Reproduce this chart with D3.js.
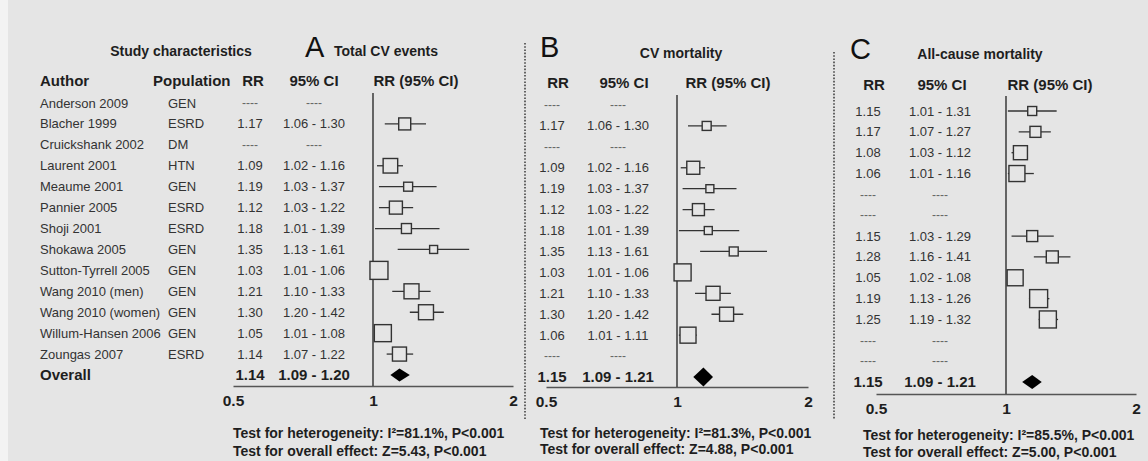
<!DOCTYPE html>
<html lang="en">
<head>
<meta charset="utf-8">
<script src="https://d3js.org/d3.v7.min.js"></script>
<style>
  body { margin: 0; background: #f3f3f3; }
  svg { display: block; }
  text { font-family: "Liberation Sans", Arial, sans-serif; fill: #1e1e1e; }
  .title { font-weight: bold; font-size: 14px; }
  .letter { font-size: 29px; fill: #111; }
  .hdr { font-weight: bold; font-size: 15px; }
  .row { font-size: 13px; fill: #333; }
  .dash { font-size: 12px; fill: #666; }
  .overall { font-weight: bold; font-size: 15px; }
  .test { font-weight: bold; font-size: 14px; }
  .tick text { font-weight: bold; font-size: 15.5px; fill: #1e1e1e; font-family: "Liberation Sans", Arial, sans-serif; }
  .ci { stroke: #333; stroke-width: 1.3; }
  .box { fill: #e5e5e5; stroke: #333; stroke-width: 1.4; }
  .diamond { fill: #000; }
  .ref { stroke: #444; stroke-width: 1.6; }
  .sep { stroke: #444; stroke-width: 1.6; stroke-dasharray: 1.6 1.6; }
</style>
<title>Forest plots</title>
</head>
<body>
<div id="chart"></div>
<script>
// study characteristics
var authors = ["Anderson 2009", "Blacher 1999", "Cruickshank 2002", "Laurent 2001", "Meaume 2001",
  "Pannier 2005", "Shoji 2001", "Shokawa 2005", "Sutton-Tyrrell 2005", "Wang 2010 (men)",
  "Wang 2010 (women)", "Willum-Hansen 2006", "Zoungas 2007"];
var populations = ["GEN", "ESRD", "DM", "HTN", "GEN", "ESRD", "ESRD", "GEN", "GEN", "GEN", "GEN", "GEN", "ESRD"];

// A: total CV events
var rrA = [null, 1.17, null, 1.09, 1.19, 1.12, 1.18, 1.35, 1.03, 1.21, 1.30, 1.05, 1.14];
var loA = [null, 1.06, null, 1.02, 1.03, 1.03, 1.01, 1.13, 1.01, 1.10, 1.20, 1.01, 1.07];
var hiA = [null, 1.30, null, 1.16, 1.37, 1.22, 1.39, 1.61, 1.06, 1.33, 1.42, 1.08, 1.22];
var weightA = [null, 6.8, null, 10, 3.8, 8, 4.7, 3, 15.3, 10.6, 10.6, 13.7, 9.3];
var overallA = [1.14, 1.09, 1.20];
var testsA = ["Test for heterogeneity: I\u00b2=81.1%, P<0.001", "Test for overall effect: Z=5.43, P<0.001"];

// B: CV mortality
var rrB = [null, 1.17, null, 1.09, 1.19, 1.12, 1.18, 1.35, 1.03, 1.21, 1.30, 1.06, null];
var loB = [null, 1.06, null, 1.02, 1.03, 1.03, 1.01, 1.13, 1.01, 1.10, 1.20, 1.01, null];
var hiB = [null, 1.30, null, 1.16, 1.37, 1.22, 1.39, 1.61, 1.06, 1.33, 1.42, 1.11, null];
var weightB = [null, 3.8, null, 8, 3, 6.8, 3, 3.8, 13.7, 9.3, 9.3, 12.1, null];
var overallB = [1.15, 1.09, 1.21];
var testsB = ["Test for heterogeneity: I\u00b2=81.3%, P<0.001", "Test for overall effect: Z=4.88, P<0.001"];

// C: all-cause mortality
var rrC = [1.15, 1.17, 1.08, 1.06, null, null, 1.15, 1.28, 1.05, 1.19, 1.25, null, null];
var loC = [1.01, 1.07, 1.03, 1.01, null, null, 1.03, 1.16, 1.02, 1.13, 1.19, null, null];
var hiC = [1.31, 1.27, 1.12, 1.16, null, null, 1.29, 1.41, 1.08, 1.26, 1.32, null, null];
var weightC = [3.8, 5.7, 9.3, 12.1, null, null, 5.7, 6.8, 12.1, 15.3, 13.7, null, null];
var overallC = [1.15, 1.09, 1.21];
var testsC = ["Test for heterogeneity: I\u00b2=85.5%, P<0.001", "Test for overall effect: Z=5.00, P<0.001"];

var tickValues = [0.5, 1, 2];

var W = 1148, H = 461;
var f2 = d3.format(".2f");

var svg = d3.select("#chart").append("svg")
    .attr("width", W)
    .attr("height", H);

svg.append("rect")
    .attr("x", 8).attr("y", 0)
    .attr("width", W - 8).attr("height", H)
    .attr("fill", "#e5e5e5");

// study characteristics block
svg.append("text").attr("class", "title")
    .attr("x", 181).attr("y", 56).attr("text-anchor", "middle")
    .text("Study characteristics");
svg.append("text").attr("class", "hdr").attr("x", 40).attr("y", 86).text("Author");
svg.append("text").attr("class", "hdr").attr("x", 153).attr("y", 86).text("Population");

var yStudy = d3.scalePoint().domain(d3.range(14)).range([103, 375]);

svg.append("g").selectAll("text")
    .data(authors)
    .join("text")
        .attr("class", "row")
        .attr("x", 40)
        .attr("y", function(d, i) { return yStudy(i); })
        .attr("dy", "0.35em")
        .text(function(d) { return d; });

svg.append("g").selectAll("text")
    .data(populations)
    .join("text")
        .attr("class", "row")
        .attr("x", 168)
        .attr("y", function(d, i) { return yStudy(i); })
        .attr("dy", "0.35em")
        .text(function(d) { return d; });

svg.append("text").attr("class", "overall")
    .attr("x", 40).attr("y", yStudy(13)).attr("dy", "0.35em")
    .text("Overall");

var panels = [
    {letter: "A", title: "Total CV events", rr: rrA, lo: loA, hi: hiA, w: weightA, overall: overallA, tests: testsA,
     letterX: 305, letterY: 57, titleX: 334, titleAnchor: "start", titleY: 56,
     hdrY: 86, hdrRR: 253, hdrCI: 314, hdrPlot: 416, colRR: 250, colCI: 314,
     rowTop: 103, rowBottom: 375, x0: 233, x1: 513, axisY: 386, refTop: 93,
     testX: 233, testY: [438, 456], diamondH: 13},
    {letter: "B", title: "CV mortality", rr: rrB, lo: loB, hi: hiB, w: weightB, overall: overallB, tests: testsB,
     letterX: 540, letterY: 57, titleX: 681, titleAnchor: "middle", titleY: 58,
     hdrY: 88, hdrRR: 558, hdrCI: 624, hdrPlot: 728, colRR: 552, colCI: 618,
     rowTop: 105, rowBottom: 377, x0: 546, x1: 808, axisY: 387, refTop: 95,
     testX: 540, testY: [438, 454], diamondH: 19},
    {letter: "C", title: "All-cause mortality", rr: rrC, lo: loC, hi: hiC, w: weightC, overall: overallC, tests: testsC,
     letterX: 850, letterY: 59, titleX: 980, titleAnchor: "middle", titleY: 59,
     hdrY: 90, hdrRR: 874, hdrCI: 942, hdrPlot: 1050, colRR: 868, colCI: 940,
     rowTop: 111, rowBottom: 382, x0: 876, x1: 1136, axisY: 394, refTop: 96,
     testX: 863, testY: [440, 457], diamondH: 14}
];

var boxSize = d3.scaleSqrt().domain([0, 16]).range([0, 18.4]);

panels.forEach(function(p) {
    var g = svg.append("g");
    var x = d3.scaleLog().domain([0.5, 2]).range([p.x0, p.x1]);
    var y = d3.scalePoint().domain(d3.range(14)).range([p.rowTop, p.rowBottom]);

    g.append("text").attr("class", "letter")
        .attr("x", p.letterX).attr("y", p.letterY).text(p.letter);
    g.append("text").attr("class", "title")
        .attr("x", p.titleX).attr("y", p.titleY)
        .attr("text-anchor", p.titleAnchor)
        .text(p.title);

    [["RR", p.hdrRR], ["95% CI", p.hdrCI], ["RR (95% CI)", p.hdrPlot]].forEach(function(h) {
        g.append("text").attr("class", "hdr")
            .attr("x", h[1]).attr("y", p.hdrY)
            .attr("text-anchor", "middle")
            .text(h[0]);
    });

    // numeric columns
    g.append("g").selectAll("text")
        .data(p.rr)
        .join("text")
            .attr("class", function(d) { return d == null ? "dash" : "row"; })
            .attr("x", p.colRR)
            .attr("y", function(d, i) { return y(i); })
            .attr("dy", "0.35em")
            .attr("text-anchor", "middle")
            .text(function(d) { return d == null ? "----" : f2(d); });

    g.append("g").selectAll("text")
        .data(p.rr)
        .join("text")
            .attr("class", function(d) { return d == null ? "dash" : "row"; })
            .attr("x", p.colCI)
            .attr("y", function(d, i) { return y(i); })
            .attr("dy", "0.35em")
            .attr("text-anchor", "middle")
            .text(function(d, i) { return d == null ? "----" : f2(p.lo[i]) + " - " + f2(p.hi[i]); });

    g.append("text").attr("class", "overall")
        .attr("x", p.colRR).attr("y", y(13)).attr("dy", "0.35em")
        .attr("text-anchor", "middle")
        .text(f2(p.overall[0]));
    g.append("text").attr("class", "overall")
        .attr("x", p.colCI).attr("y", y(13)).attr("dy", "0.35em")
        .attr("text-anchor", "middle")
        .text(f2(p.overall[1]) + " - " + f2(p.overall[2]));

    // axis
    var axis = g.append("g")
        .attr("transform", "translate(0," + p.axisY + ")")
        .call(d3.axisBottom(x).tickValues(tickValues).tickSize(0).tickPadding(9)
            .tickFormat(function(d) { return String(d); }));
    axis.select(".domain").attr("stroke", "#555").attr("stroke-width", 1.6);

    // line of no effect
    g.append("line").attr("class", "ref")
        .attr("x1", x(1)).attr("x2", x(1))
        .attr("y1", p.refTop).attr("y2", p.axisY);

    var rows = d3.range(13).filter(function(i) { return p.rr[i] != null; });

    g.append("g").selectAll("line")
        .data(rows)
        .join("line")
            .attr("class", "ci")
            .attr("x1", function(i) { return x(p.lo[i]); })
            .attr("x2", function(i) { return x(p.hi[i]); })
            .attr("y1", function(i) { return y(i); })
            .attr("y2", function(i) { return y(i); });

    g.append("g").selectAll("rect")
        .data(rows)
        .join("rect")
            .attr("class", "box")
            .attr("x", function(i) { return x(p.rr[i]) - boxSize(p.w[i]) / 2; })
            .attr("y", function(i) { return y(i) - boxSize(p.w[i]) / 2; })
            .attr("width", function(i) { return boxSize(p.w[i]); })
            .attr("height", function(i) { return boxSize(p.w[i]); });

    var cy = y(13), hh = p.diamondH / 2;
    g.append("path").attr("class", "diamond")
        .attr("d", "M" + x(p.overall[1]) + "," + cy +
                   "L" + x(p.overall[0]) + "," + (cy - hh) +
                   "L" + x(p.overall[2]) + "," + cy +
                   "L" + x(p.overall[0]) + "," + (cy + hh) + "Z");

    g.selectAll(".test")
        .data(p.tests)
        .join("text")
            .attr("class", "test")
            .attr("x", p.testX)
            .attr("y", function(d, i) { return p.testY[i]; })
            .text(function(d) { return d; });
});

// dotted separators between panels
svg.append("line").attr("class", "sep").attr("x1", 525).attr("x2", 525).attr("y1", 43).attr("y2", 420);
svg.append("line").attr("class", "sep").attr("x1", 834).attr("x2", 834).attr("y1", 52).attr("y2", 420);
</script>
</body>
</html>
